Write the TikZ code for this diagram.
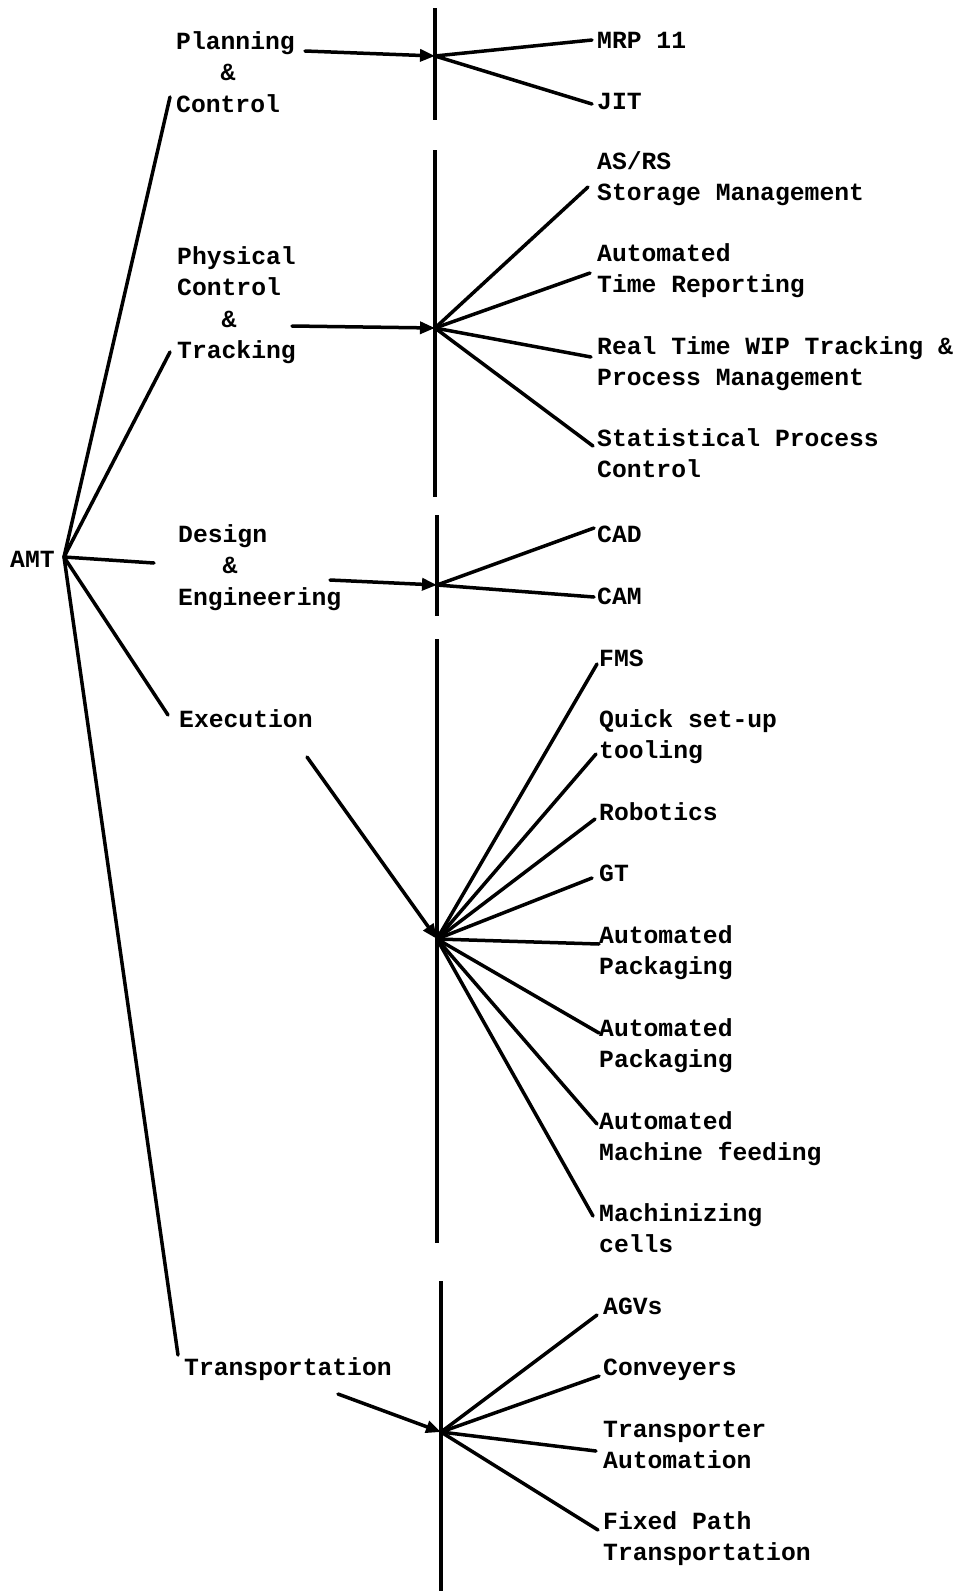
\documentclass[tikz,border=0pt]{standalone}
\usepackage{fontspec}
\setmonofont{Liberation Mono}
\usetikzlibrary{arrows.meta}
\begin{document}
\begin{tikzpicture}[x=1pt,y=-1pt,
  lbl/.style={anchor=base west, inner sep=0pt, align=left,
    font=\ttfamily\bfseries\fontsize{24.7}{31.5}\selectfont},
  link/.style={line width=3.5pt, line cap=round},
  feed/.style={link, -{Triangle[length=15pt,width=12pt]}},
  bus/.style={line width=3.7pt}]
\useasboundingbox (0,0) rectangle (964,1591);

% root (multi-line labels sit on the baseline of their last line)
\node[lbl] (amt) at (10,567) {AMT};
\coordinate (amtH) at (64,557);

% categories
\node[lbl] (plan) at (176,112)   {Planning\\\phantom{Pla}\&\\Control};
\node[lbl] (phys) at (177,358.5) {Physical\\Control\\\phantom{Pla}\&\\Tracking};
\node[lbl] (des)  at (178,605)   {Design\\\phantom{Pla}\&\\Engineering};
\node[lbl] (exe)  at (179,727)   {Execution};
\node[lbl] (tra)  at (184,1375)  {Transportation};

\coordinate (planA) at (170,97);
\coordinate (physA) at (170,352);
\coordinate (desA)  at (154,563);
\coordinate (exeA)  at (168,715);
\coordinate (traA)  at (178,1355);

\foreach \c in {planA,physA,desA,exeA,traA}
  \draw[link] (amtH) -- (\c);

% vertical buses
\coordinate (b1t) at (435,8);    \coordinate (b1b) at (435,120);
\coordinate (b2t) at (435,150);  \coordinate (b2b) at (435,497);
\coordinate (b3t) at (437,515);  \coordinate (b3b) at (437,616);
\coordinate (b4t) at (437,639);  \coordinate (b4b) at (437,1243);
\coordinate (b5t) at (441,1281); \coordinate (b5b) at (441,1591);
\draw[bus] (b1t) -- (b1b);
\draw[bus] (b2t) -- (b2b);
\draw[bus] (b3t) -- (b3b);
\draw[bus] (b4t) -- (b4b);
\draw[bus] (b5t) -- (b5b);

% hubs and feeds
\coordinate (planH) at (435,56);
\coordinate (physH) at (435,328);
\coordinate (desH)  at (437,585);
\coordinate (exeH)  at (437,939);
\coordinate (traH)  at (441,1432);

\coordinate (planF) at (305,51);
\coordinate (physF) at (292,326);
\coordinate (desF)  at (330,580);
\coordinate (exeF)  at (307,757);
\coordinate (traF)  at (338,1394);

\draw[feed] (planF) -- (planH);
\draw[feed] (physF) -- (physH);
\draw[feed] (desF) -- (desH);
\draw[feed] (exeF) -- (exeH);
\draw[feed] (traF) -- (traH);

% Planning & Control
\node[lbl] (mrp) at (597,48)  {MRP 11};
\node[lbl] (jit) at (597,109) {JIT};
\coordinate (mrpE) at (592,40);
\coordinate (jitE) at (592,104);
\draw[link] (planH) -- (mrpE);
\draw[link] (planH) -- (jitE);

% Physical Control & Tracking
\node[lbl] (asrs) at (597,200.5) {AS/RS\\Storage Management};
\node[lbl] (atr)  at (597,292.5) {Automated\\Time Reporting};
\node[lbl] (wip)  at (597,385.5) {Real Time WIP Tracking \&\\Process Management};
\node[lbl] (spc)  at (597,477.5) {Statistical Process\\Control};
\coordinate (asrsE) at (588,187);
\coordinate (atrE)  at (590,273);
\coordinate (wipE)  at (591,357);
\coordinate (spcE)  at (593,446);
\foreach \c in {asrsE,atrE,wipE,spcE}
  \draw[link] (physH) -- (\c);

% Design & Engineering
\node[lbl] (cad) at (597,542) {CAD};
\node[lbl] (cam) at (597,604) {CAM};
\coordinate (cadE) at (594,528);
\coordinate (camE) at (594,597);
\draw[link] (desH) -- (cadE);
\draw[link] (desH) -- (camE);

% Execution
\node[lbl] (fms)  at (599,666)    {FMS};
\node[lbl] (qsu)  at (599,758.5)  {Quick set-up\\tooling};
\node[lbl] (rob)  at (599,820)    {Robotics};
\node[lbl] (gt)   at (599,881)    {GT};
\node[lbl] (ap1)  at (599,974.5)  {Automated\\Packaging};
\node[lbl] (ap2)  at (599,1067.5) {Automated\\Packaging};
\node[lbl] (amf)  at (599,1160.5) {Automated\\Machine feeding};
\node[lbl] (mc)   at (599,1252.5) {Machinizing\\cells};
\coordinate (fmsE) at (597,664);
\coordinate (qsuE) at (596,754);
\coordinate (robE) at (595,819);
\coordinate (gtE)  at (592,878);
\coordinate (ap1E) at (599,944);
\coordinate (ap2E) at (599,1033);
\coordinate (amfE) at (597,1124);
\coordinate (mcE)  at (593,1216);
\foreach \c in {fmsE,qsuE,robE,gtE,ap1E,ap2E,amfE,mcE}
  \draw[link] (exeH) -- (\c);

% Transportation
\node[lbl] (agv) at (603,1314)   {AGVs};
\node[lbl] (cnv) at (603,1375)   {Conveyers};
\node[lbl] (tau) at (603,1468.5) {Transporter\\Automation};
\node[lbl] (fpt) at (603,1560.5) {Fixed Path\\Transportation};
\coordinate (agvE) at (597,1315);
\coordinate (cnvE) at (599,1376);
\coordinate (tauE) at (596,1451);
\coordinate (fptE) at (598,1530);
\foreach \c in {agvE,cnvE,tauE,fptE}
  \draw[link] (traH) -- (\c);
\end{tikzpicture}
\end{document}
